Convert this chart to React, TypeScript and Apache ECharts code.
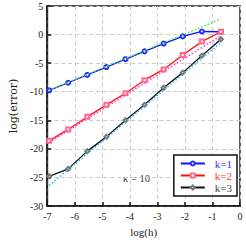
import React, { useEffect, useRef } from "react";
import * as echarts from "echarts";

const logH = [-6.931, -6.238, -5.545, -4.852, -4.159, -3.466, -2.773, -2.079, -1.386, -0.693];
const errK1 = [-9.75, -8.43, -7.06, -5.69, -4.31, -2.94, -1.57, -0.32, 0.54, 0.49];
const errK2 = [-18.6, -16.6, -14.4, -12.3, -10.27, -7.98, -6.1, -3.58, -1.23, 0.49];
const errK3 = [-24.8, -23.5, -20.4, -17.9, -15.0, -12.3, -9.3, -6.66, -3.69, -0.83];
const refX = [-6.931, -0.693];
const refSlope2 = [-9.75, 2.73];
const refSlope3 = [-18.9, -0.2];
const refSlope4 = [-26.4, -1.4];
const seriesNames = ["k=1", "k=2", "k=3"];
const xTicks = { min: -7, max: 0, step: 1 };
const yTicks = { min: -30, max: 5, step: 5 };

const zip = (xs: number[], ys: number[]) => xs.map((x, i) => [x, ys[i]]);

export default function App() {
  const ref = useRef<HTMLDivElement>(null);
  useEffect(() => {
    document.body.style.margin = "0";
    const chart = echarts.init(ref.current!, null, { renderer: "svg" });
    const serif = "Liberation Serif";
    const solid = (name: string, data: number[], color: string, symColor: string, symbol: string, size: number) => ({
      name,
      type: "line",
      data: zip(logH, data),
      symbol,
      symbolSize: size,
      showSymbol: true,
      lineStyle: { color, width: 1.3 },
      itemStyle: { color: symColor, borderColor: symColor, borderWidth: 0.9 },
      z: 3,
    });
    const dotted = (data: number[], color: string) => ({
      type: "line",
      data: zip(refX, data),
      symbol: "none",
      lineStyle: { color, width: 1.5, type: [1.5, 2] },
      z: 4,
    });
    chart.setOption({
      animation: false,
      grid: {
        left: 35,
        top: 6,
        right: 6,
        bottom: 32,
        show: true,
        borderColor: "#555",
        borderWidth: 2,
      },
      xAxis: {
        type: "value",
        min: xTicks.min,
        max: xTicks.max,
        interval: xTicks.step,
        name: "log(h)",
        nameLocation: "middle",
        nameGap: 20,
        nameTextStyle: { fontFamily: serif, fontSize: 11, color: "#222" },
        axisLine: { onZero: false, lineStyle: { color: "#111", width: 1.5 } },
        axisTick: { inside: true, length: 4, lineStyle: { color: "#111", width: 1.5 } },
        axisLabel: { fontFamily: serif, fontSize: 10, color: "#222", margin: 5 },
        splitLine: { lineStyle: { color: "#ccc", type: [4, 3], width: 1 } },
      },
      yAxis: {
        type: "value",
        min: yTicks.min,
        max: yTicks.max,
        interval: yTicks.step,
        name: "log(error)",
        nameLocation: "middle",
        nameGap: 25,
        nameTextStyle: { fontFamily: "DejaVu Serif", fontSize: 11, color: "#222" },
        axisLine: { onZero: false, lineStyle: { color: "#111", width: 1.5 } },
        axisTick: { inside: true, length: 4, lineStyle: { color: "#111", width: 1.5 } },
        axisLabel: { fontFamily: serif, fontSize: 10, color: "#222", margin: 4 },
        splitLine: { lineStyle: { color: "#ccc", type: [4, 3], width: 1 } },
      },
      legend: {
        orient: "vertical",
        right: 9,
        top: 155,
        backgroundColor: "#fff",
        borderColor: "#111",
        borderWidth: 1.5,
        borderRadius: 0,
        padding: [3, 5, 3, 6],
        itemWidth: 24,
        itemHeight: 5,
        itemGap: 1,
        textStyle: { fontFamily: serif, fontSize: 11, padding: [0, 0, 0, 5] },
        data: [
          { name: seriesNames[0], textStyle: { color: "#3333ff" } },
          { name: seriesNames[1], textStyle: { color: "#ff3333" } },
          { name: seriesNames[2], textStyle: { color: "#444" } },
        ],
      },
      graphic: [
        {
          type: "text",
          left: 123,
          top: 173,
          style: { text: "κ = 10", fontFamily: serif, fontSize: 10.5, fill: "#333" },
        },
      ],
      series: [
        solid(seriesNames[0], errK1, "#1010ff", "#2a2aff", "emptyCircle", 4),
        solid(seriesNames[1], errK2, "#ff1010", "#ff6a8a", "emptyRect", 4),
        solid(seriesNames[2], errK3, "#111", "#777", "emptyDiamond", 4),
        dotted(refSlope2, "#3ce63c"),
        dotted(refSlope3, "#ff40c8"),
        dotted(refSlope4, "#35b5ee"),
      ],
    });
    return () => chart.dispose();
  }, []);
  return <div ref={ref} style={{ width: 246, height: 242 }} />;
}
